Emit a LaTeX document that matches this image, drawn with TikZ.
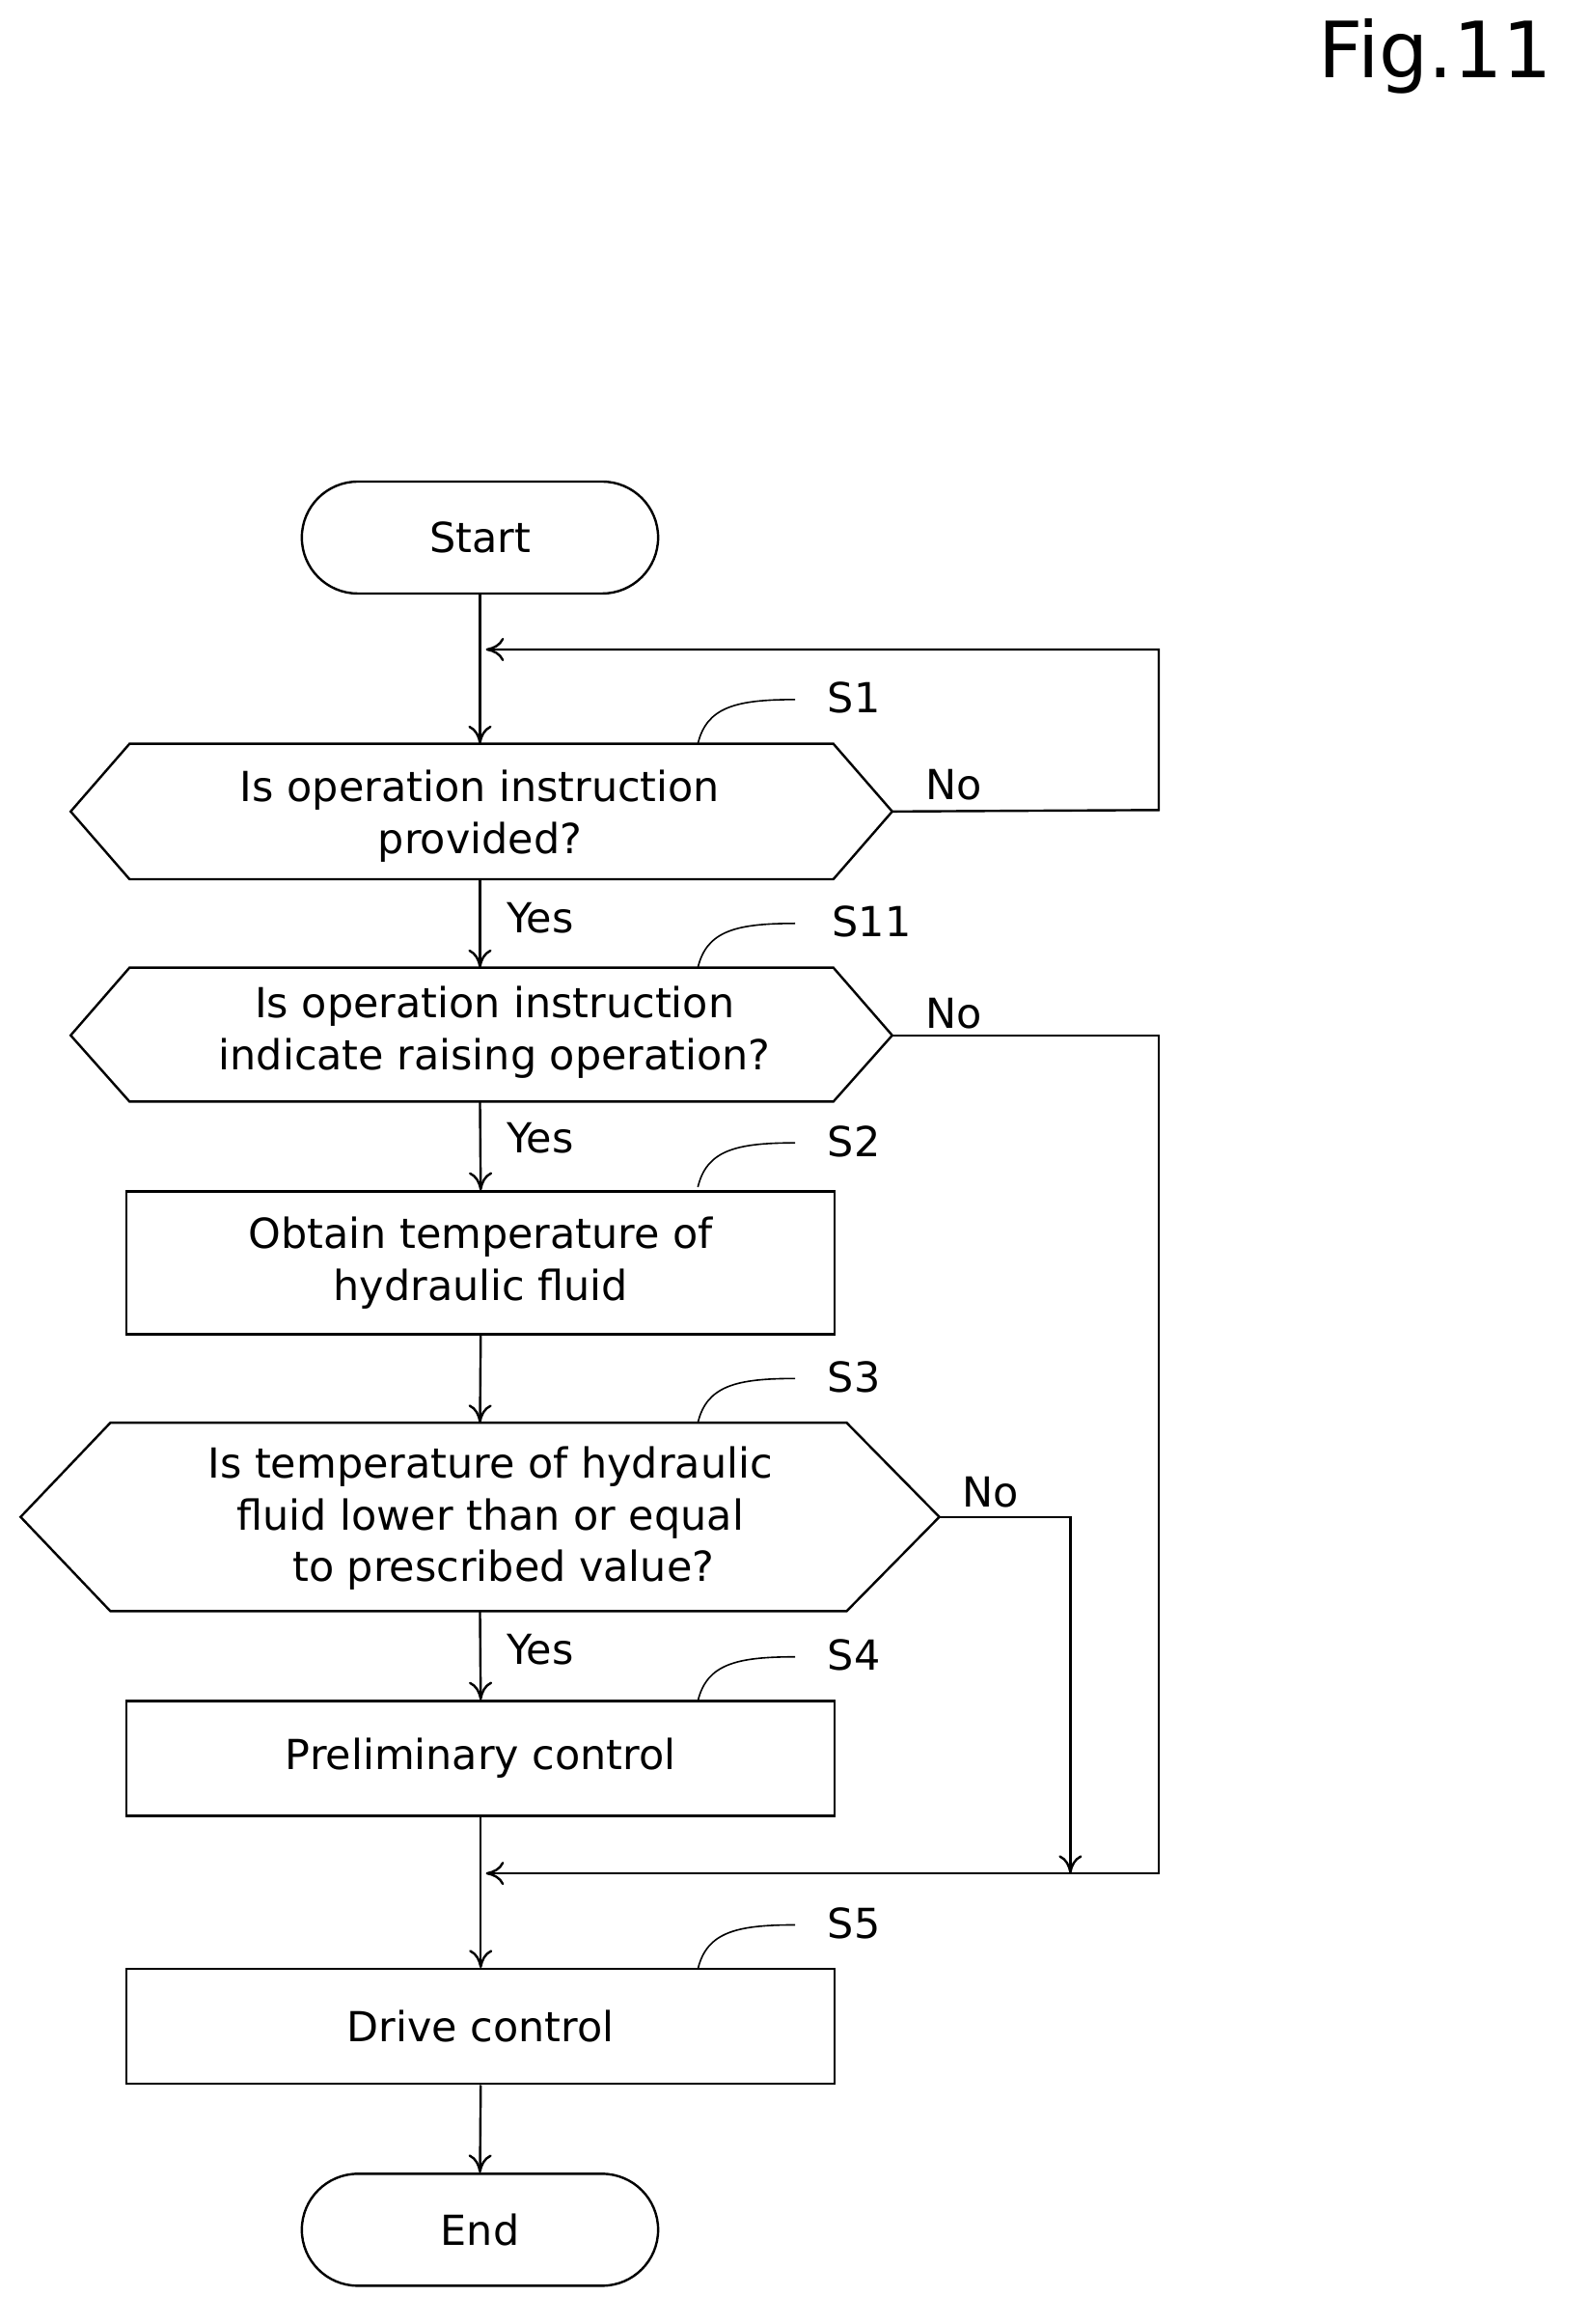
\documentclass[tikz,border=0pt]{standalone}
\usepackage{fontspec}
\setmainfont{DejaVu Sans}
\usetikzlibrary{arrows.meta}
\begin{document}
\begin{tikzpicture}[x=0.02cm,y=-0.02cm,
 line width=0.9pt,
 arr/.style={-{To[length=7pt,width=9pt]}},
 txt/.style={font=\fontsize{16}{20}\selectfont,align=center,inner sep=0pt},
 lbl/.style={font=\fontsize{16}{20}\selectfont,inner sep=0pt},
 box/.style={draw,minimum width=481*0.02cm,inner sep=0pt,align=center,font=\fontsize{16}{20}\selectfont},
 term/.style={draw,rounded corners=38*0.02cm,minimum width=242*0.02cm,minimum height=76*0.02cm,font=\fontsize{16}{20}\selectfont}]
\useasboundingbox (0,0) rectangle (1080,1578);
\node[font=\fontsize{30}{36}\selectfont] (fig) at (975,38) {Fig.11};
\node[term] (start) at (326,365) {Start};
% S1
\draw (48,551)--(88,505)--(566,505)--(606,551)--(566,597)--(88,597)--cycle;
\coordinate (s1t) at (326,505); \coordinate (s1b) at (326,597); \coordinate (s1r) at (606,551);
\node[txt] (s1) at (326,554) {Is operation instruction\\provided?};
% S11
\draw (48,703)--(88,657)--(566,657)--(606,703)--(566,748)--(88,748)--cycle;
\coordinate (s11t) at (326,657); \coordinate (s11b) at (326,748); \coordinate (s11r) at (606,703);
\node[txt] (s11) at (336,701) {Is operation instruction\\indicate raising operation?};
% S2
\node[box,minimum height=97*0.02cm] (s2) at (326.5,857.5) {Obtain temperature of\\hydraulic fluid};
% S3
\draw (14,1030)--(75,966)--(575,966)--(638,1030)--(575,1094)--(75,1094)--cycle;
\coordinate (s3t) at (326,966); \coordinate (s3b) at (326,1094); \coordinate (s3r) at (638,1030);
\node[txt] (s3) at (333,1031) {Is temperature of hydraulic\\fluid lower than or equal\\\ \ to prescribed value?};
% S4, S5
\node[box,minimum height=78*0.02cm] (s4) at (326.5,1194) {Preliminary control};
\node[box,minimum height=78*0.02cm] (s5) at (326.5,1376) {Drive control};
\node[term] (end) at (326,1514) {End};
% step labels
\foreach \n/\y/\lx in {S1/505/580,S11/657/592,S2/806/580,S3/966/580,S4/1155/580,S5/1337/580}{
 \draw[line width=0.6pt] (474,\y) .. controls (480,\y-25) and (500,\y-30) .. (540,\y-30);
 \node[lbl] at (\lx,\y-31) {\n};}
% connectors
\coordinate (j1) at (330,441); \coordinate (c1) at (787,550); \coordinate (c1t) at (787,441);
\coordinate (c2) at (787,703); \coordinate (c2b) at (787,1272); \coordinate (j2) at (330,1272);
\coordinate (c3) at (727,1030); \coordinate (c3b) at (727,1272);
\draw[arr] (start.south) -- (s1t);
\draw[arr] (s1r) -- (c1) -- (c1t) -- (j1);
\node[lbl] at (648,533) {No};
\draw[arr] (s1b) -- (s11t);
\node[lbl] at (367,623) {Yes};
\draw[arr] (s11r) -- (c2) -- (c2b) -- (j2);
\node[lbl] at (648,688) {No};
\draw[arr] (s11b) -- (s2.north);
\node[lbl] at (367,773) {Yes};
\draw[arr] (s2.south) -- (s3t);
\draw[arr] (s3r) -- (c3) -- (c3b);
\node[lbl] at (673,1013) {No};
\draw[arr] (s3b) -- (s4.north);
\node[lbl] at (367,1120) {Yes};
\draw[arr] (s4.south) -- (s5.north);
\draw[arr] (s5.south) -- (end.north);
\end{tikzpicture}
\end{document}
